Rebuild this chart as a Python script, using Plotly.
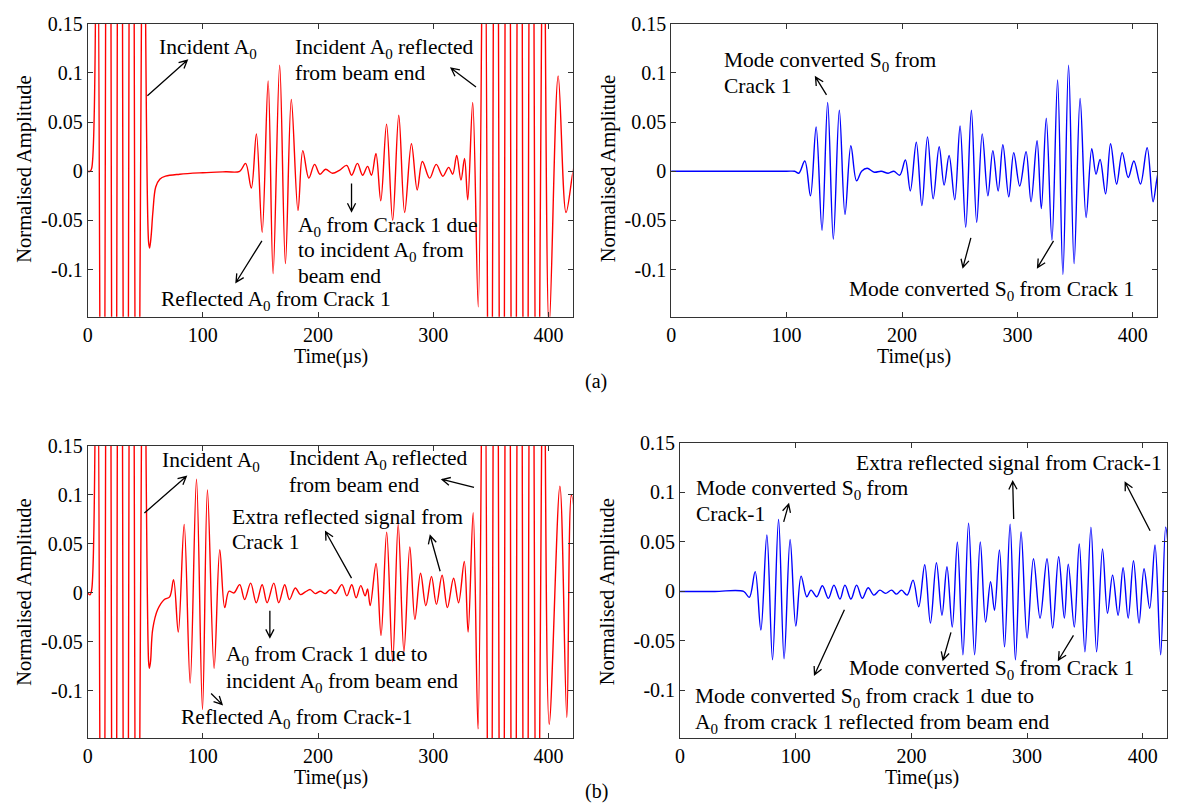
import math
import plotly.graph_objects as go

W, H = 1178, 803
FONT = "Liberation Serif"

# ---------------------------------------------------------------------------
# Signals: time (µs) and normalised amplitude at the turning points of each
# waveform; the curve between them is drawn by Plotly's spline line shape.
# ---------------------------------------------------------------------------

# (a) A0 response
a_a0_t = [0, 2, 3.5,
          7.9, 12.9, 18.0, 23.0, 28.0, 33.1, 38.1, 43.1, 48.1,
          52.9, 53.8, 55.1, 56.6, 59.1, 62.6, 67.6, 80, 100, 120, 132,
          137.1, 142.1, 146.5, 151.5, 156.7, 161.0, 166.7, 171.7, 176.8, 182.6,
          186.8, 192.0, 197.0, 201.7, 206.6, 212.6, 218.6,
          224.9, 229.2, 234.2, 238.7, 243.0, 246.4, 250.3, 254.5, 259.5, 264.8,
          270.1, 275.2, 281.1, 286.1, 290.6, 296.9, 302.6, 308.4, 313.4, 316.9,
          320.4, 324.1, 327.2, 330.0, 334.3, 339.1,
          344.2, 349.4, 354.5, 359.6, 364.7, 369.9, 375.0, 380.1, 385.2, 390.4,
          395.5, 400.6, 408.5, 415.3, 420.7, 423]
a_a0_v = [0, 0, 0.003,
          0.4, -0.75, 1.0, -1.0, 1.0, -1.0, 0.9, -0.7, 0.45,
          -0.072, -0.078, -0.066, -0.042, -0.016, -0.008, -0.005, -0.003, -0.0015, -0.0005, 0,
          0.008, -0.017, 0.038, -0.062, 0.092, -0.104, 0.108, -0.094, 0.073, -0.04,
          0.021, -0.007, 0.007, -0.003, 0.002, -0.002, 0.001,
          0.006, -0.004, 0.008, -0.004, 0.005, -0.004, 0.018, -0.03, 0.048, -0.05,
          0.057, -0.042, 0.028, -0.019, 0.01, -0.007, 0.007, -0.005, 0.004, -0.003,
          0.016, -0.009, 0.013, -0.029, 0.07, -0.138,
          0.4, -0.6, 0.8, -0.9, 1.0, -1.0, 0.95, -0.85, 0.7, -0.55,
          0.4, -0.16, 0.097, -0.042, -0.005, 0.01]

# (a) S0 response
a_s0_t = [0, 50, 100, 107, 110.6, 115.8, 120.7, 125.6, 130.7, 135.6, 140.5, 145.7,
          150.6, 155.7, 160.6, 165, 169.8, 176, 182, 188, 193, 198,
          202.9, 207.2, 212.4, 217.2, 222.1, 227.0, 232.2, 236.5, 240.8, 245.7,
          250.3, 255.2, 260.1, 264.7, 269.5, 274.4, 278.7, 283.3, 287.4, 292.5,
          296.8, 302.0, 307.5, 311.8, 317.0, 320.7, 325.0, 329.9, 334.8, 339.4,
          344.3, 349.1, 354.3, 359.5, 364.4, 368.1, 371.6, 376.4, 380.7, 385.9,
          390.8, 396.0, 400.9, 406.6, 412.4, 417.5, 420.4, 422]
a_s0_v = [0, 0, 0, 0, -0.002, 0.0104, -0.025, 0.045, -0.06, 0.07, -0.069, 0.062,
          -0.044, 0.026, -0.0097, 0.0, 0.003, -0.001, 0.0, -0.002, 0.0, -0.004,
          0.0114, -0.02, 0.0295, -0.035, 0.035, -0.028, 0.025, -0.014, 0.016, -0.029,
          0.046, -0.057, 0.062, -0.052, 0.038, -0.025, 0.021, -0.02, 0.027, -0.026,
          0.019, -0.015, 0.02, -0.031, 0.031, -0.038, 0.054, -0.07, 0.093, -0.105,
          0.108, -0.094, 0.074, -0.047, 0.023, -0.003, 0.012, -0.023, 0.028, -0.013,
          0.019, -0.0064, 0.0104, -0.013, 0.024, -0.031, -0.011, 0.0]

# (b) A0 response
b_a0_t = [0, 2, 3.5,
          7.9, 12.9, 18.0, 23.0, 28.0, 33.1, 38.1, 43.1, 48.1,
          52.9, 53.6, 54.6, 56.5, 60.8, 66.6, 71.2,
          74.6, 78.7, 83.8, 89.0, 94.5, 99.7, 104.0, 109.8, 114.7, 119.0, 122.7,
          127.0, 132.0, 136.3, 141.5, 146.4, 151.5, 155.8, 161.6, 165.9, 171.1,
          175.2, 180.3, 184.7, 189.0, 193.3, 197.6, 202.0, 206.3, 210.6, 215.0,
          220.7, 225.0, 229.3, 233.1, 237.1, 240.9, 243.0, 245.3, 250.4, 254.7,
          259.6, 264.8, 269.6, 274.6, 279.7, 284.1, 289.0, 293.6, 298.5, 302.8,
          307.7, 312.3, 317.7, 322.0, 327.0, 330.3, 334.7, 338.9,
          344.05, 349.2, 354.35, 359.5, 364.65, 369.8, 374.95, 380.1, 385.25,
          390.4, 395.55, 400.7, 410.0, 416.0, 420.0, 423]
b_a0_v = [0, -0.002, 0.003,
          0.4, -0.75, 1.0, -1.0, 1.0, -1.0, 0.9, -0.7, 0.45,
          -0.07, -0.077, -0.07, -0.037, -0.017, -0.0067, -0.004,
          0.0134, -0.04, 0.07, -0.092, 0.116, -0.119, 0.105, -0.077, 0.044, -0.015, 0.0017,
          0.0, 0.0084, -0.0067, 0.01, -0.01, 0.0084, -0.01, 0.01, -0.01, 0.0084,
          -0.0067, 0.005, -0.0017, 0.001, 0.0034, -0.0007, 0.0017, -0.0007, 0.0034, -0.0007,
          0.0084, -0.003, 0.0084, -0.005, 0.0074, -0.003, 0.004, -0.013, 0.03, -0.0436,
          0.062, -0.07, 0.07, -0.06, 0.047, -0.027, 0.02, -0.013, 0.0167, -0.0117,
          0.018, -0.015, 0.015, -0.01, 0.032, -0.04, 0.082, -0.139,
          0.4, -0.6, 0.8, -0.9, 1.0, -1.0, 0.95, -0.85, 0.7,
          -0.55, 0.4, -0.134, 0.109, -0.127, 0.1, 0.08]

# (b) S0 response
b_s0_t = [0, 30, 54.9, 59.8, 64.9, 69.8, 75.0, 79.9, 85.1, 89.9, 95.1, 100.0,
          104.6, 109.5, 113.2, 118.1, 123.0, 128.2, 133.0, 138.2, 142.5, 147.7,
          152.6, 157.5, 162.6, 167.5, 172.7, 177.6, 182.8, 187.1, 191.4, 196.3,
          201.4, 206.3, 211.5, 216.4, 221.6, 226.4, 230.7, 235.3, 239.7, 244.5,
          249.4, 254.6, 259.5, 264.1, 268.4, 271.8, 276.1, 280.5, 285.3, 289.9,
          294.8, 300.0, 305.5, 311.2, 317.2, 322.1, 327.3, 332.2, 335.6, 340.8,
          345.1, 350.0, 355.2, 360.1, 365.2, 369.5, 373.9, 378.7, 383.0, 387.4,
          392.0, 396.8, 401.1, 406.0, 410.6, 415.5, 419.8, 423]
b_s0_v = [0, 0, 0, -0.006, 0.02, -0.039, 0.057, -0.069, 0.0727, -0.068, 0.0525, -0.035,
          0.0155, -0.0054, 0.0013, -0.0054, 0.0057, -0.007, 0.0064, -0.0077, 0.0064, -0.0077,
          0.0064, -0.007, 0.0037, -0.0037, 0.0013, -0.002, 0.0013, -0.0027, 0.0013, -0.0037,
          0.0114, -0.0155, 0.027, -0.032, 0.029, -0.024, 0.025, -0.036, 0.05, -0.064,
          0.069, -0.064, 0.05, -0.031, 0.0098, -0.019, 0.042, -0.056, 0.068, -0.069,
          0.06, -0.047, 0.033, -0.027, 0.033, -0.037, 0.035, -0.027, 0.0276, -0.036,
          0.048, -0.061, 0.065, -0.061, 0.043, -0.022, 0.0165, -0.024, 0.024, -0.027,
          0.031, -0.032, 0.023, -0.017, 0.047, -0.064, 0.065, 0.03]

x_ticks = [0, 100, 200, 300, 400]
y_ticks = [-0.1, -0.05, 0, 0.05, 0.1, 0.15]
y_tick_text = ["-0.1", "-0.05", "0", "0.05", "0.1", "0.15"]
x_title = "Time(µs)"
y_title = "Normalised Amplitude"

RED = "#ff0000"
BLUE = "#0000ff"
FRAME = "#333333"
TICK_SIZE = 20
NOTE_SIZE = 21.5


def fx(p):
    """Pixel column -> paper fraction."""
    return p / W


def fy(p):
    """Pixel row -> paper fraction."""
    return 1 - p / H


# panel boxes in pixels: (left, right, top, bottom)
panels = [
    ("", (83, 570, 13, 310), a_a0_t, a_a0_v, RED),
    ("2", (669, 1157, 13, 310), a_s0_t, a_s0_v, BLUE),
    ("3", (83, 570, 441, 737), b_a0_t, b_a0_v, RED),
    ("4", (678, 1167, 438, 737), b_s0_t, b_s0_v, BLUE),
]

fig = go.Figure()
layout = dict(
    width=W, height=H,
    margin=dict(l=0, r=0, t=0, b=0),
    paper_bgcolor="white", plot_bgcolor="white",
    showlegend=False,
    font=dict(family=FONT, size=TICK_SIZE, color="black"),
)

for suffix, (l, r, t, b), ts, vs, col in panels:
    fig.add_trace(go.Scatter(
        x=ts, y=vs, mode="lines",
        line=dict(color=col, width=1.4, shape="spline", smoothing=1),
        xaxis="x" + suffix, yaxis="y" + suffix, hoverinfo="skip",
    ))
    common = dict(
        ticks="inside", ticklen=5, tickwidth=1, tickcolor=FRAME,
        showline=True, linecolor=FRAME, linewidth=1, mirror="allticks",
        showgrid=False, zeroline=False,
        tickfont=dict(family=FONT, size=TICK_SIZE, color="black"),
    )
    layout["xaxis" + suffix] = dict(
        domain=[fx(l), fx(r)], anchor="y" + suffix, range=[0, 421],
        tickvals=x_ticks, ticktext=[str(v) for v in x_ticks], **common)
    layout["yaxis" + suffix] = dict(
        domain=[fy(b), fy(t)], anchor="x" + suffix, range=[-0.148, 0.15],
        tickvals=y_ticks, ticktext=y_tick_text, **common)

fig.update_layout(**layout)

annotations = []


def text(px, py, s, size=NOTE_SIZE, angle=0, xanchor="left"):
    annotations.append(dict(
        x=fx(px), y=fy(py), xref="paper", yref="paper", text=s,
        showarrow=False, xanchor=xanchor, yanchor="middle", align="left",
        textangle=angle, borderpad=0,
        font=dict(family=FONT, size=size, color="black")))


def lines(px, rows):
    for py, s in rows:
        text(px, py, s)


# axis titles and captions
for cx, cy in [(327, 350), (913, 350), (327, 777), (921, 777)]:
    text(cx, cy, x_title, size=20, xanchor="center")
for cx, cy in [(20, 160), (606, 160), (20, 589), (606, 589)]:
    text(cx, cy, y_title, size=20.5, angle=-90, xanchor="center")
text(594, 376, "(a)", size=20, xanchor="center")
text(594, 791, "(b)", size=20, xanchor="center")

# panel (a), A0
lines(154, [(38, "Incident A<sub>0</sub>")])
lines(290, [(38, "Incident A<sub>0</sub> reflected"), (63, "from beam end")])
lines(293, [(218, "A<sub>0</sub> from Crack 1 due"), (244, "to incident A<sub>0</sub> from"),
            (269, "beam end")])
lines(156, [(294, "Reflected A<sub>0</sub> from Crack 1")])
# panel (a), S0
lines(721, [(51, "Mode converted S<sub>0</sub> from"), (76, "Crack 1")])
lines(847, [(283, "Mode converted S<sub>0</sub> from Crack 1")])
# panel (b), A0
lines(157, [(457, "Incident A<sub>0</sub>")])
lines(284, [(455, "Incident A<sub>0</sub> reflected"), (481, "from beam end")])
lines(227, [(513, "Extra reflected signal from"), (538, "Crack 1")])
lines(221, [(653, "A<sub>0</sub> from Crack 1 due to"),
            (681, "incident A<sub>0</sub> from beam end")])
lines(176, [(717, "Reflected A<sub>0</sub> from Crack-1")])
# panel (b), S0
lines(693, [(485, "Mode converted S<sub>0</sub> from"), (510, "Crack-1")])
lines(854, [(458, "Extra reflected signal from Crack-1")])
lines(847, [(668, "Mode converted S<sub>0</sub> from Crack 1")])
lines(692, [(696, "Mode converted S<sub>0</sub> from crack 1 due to"),
            (722, "A<sub>0</sub> from crack 1 reflected from beam end")])

fig.update_layout(annotations=annotations)

# pointer arrows (tail -> head) in pixels, open V heads
arrows = [
    ((143, 86), (183, 50)), ((473, 77), (448, 58)), ((348, 175), (348, 203)),
    ((258, 233), (232, 275)),
    ((825, 85), (814, 67)), ((970, 230), (962, 260)), ((1053, 233), (1037, 260)),
    ((140, 509), (182, 472)), ((471, 483), (439, 475)), ((348, 575), (322, 528)),
    ((437, 568), (427, 532)), ((266, 608), (266, 635)), ((207, 692), (218, 703)),
    ((782, 518), (787, 500)), ((1013, 515), (1012, 477)), ((1150, 527), (1125, 478)),
    ((950, 630), (942, 658)), ((1073, 633), (1058, 658)), ((843, 607), (813, 673)),
]


def arrow_path(p0, p1, head=9.0, half=math.radians(27)):
    (x0, y0), (x1, y1) = p0, p1
    a = math.atan2(y1 - y0, x1 - x0)
    lx, ly = x1 - head * math.cos(a - half), y1 - head * math.sin(a - half)
    rx, ry = x1 - head * math.cos(a + half), y1 - head * math.sin(a + half)
    return (f"M{fx(x0):.5f},{fy(y0):.5f} L{fx(x1):.5f},{fy(y1):.5f} "
            f"M{fx(lx):.5f},{fy(ly):.5f} L{fx(x1):.5f},{fy(y1):.5f} "
            f"L{fx(rx):.5f},{fy(ry):.5f}")


fig.update_layout(shapes=[
    dict(type="path", xref="paper", yref="paper", path=arrow_path(p0, p1),
         line=dict(color="black", width=1.3))
    for p0, p1 in arrows
])

fig.write_html("out.html")
